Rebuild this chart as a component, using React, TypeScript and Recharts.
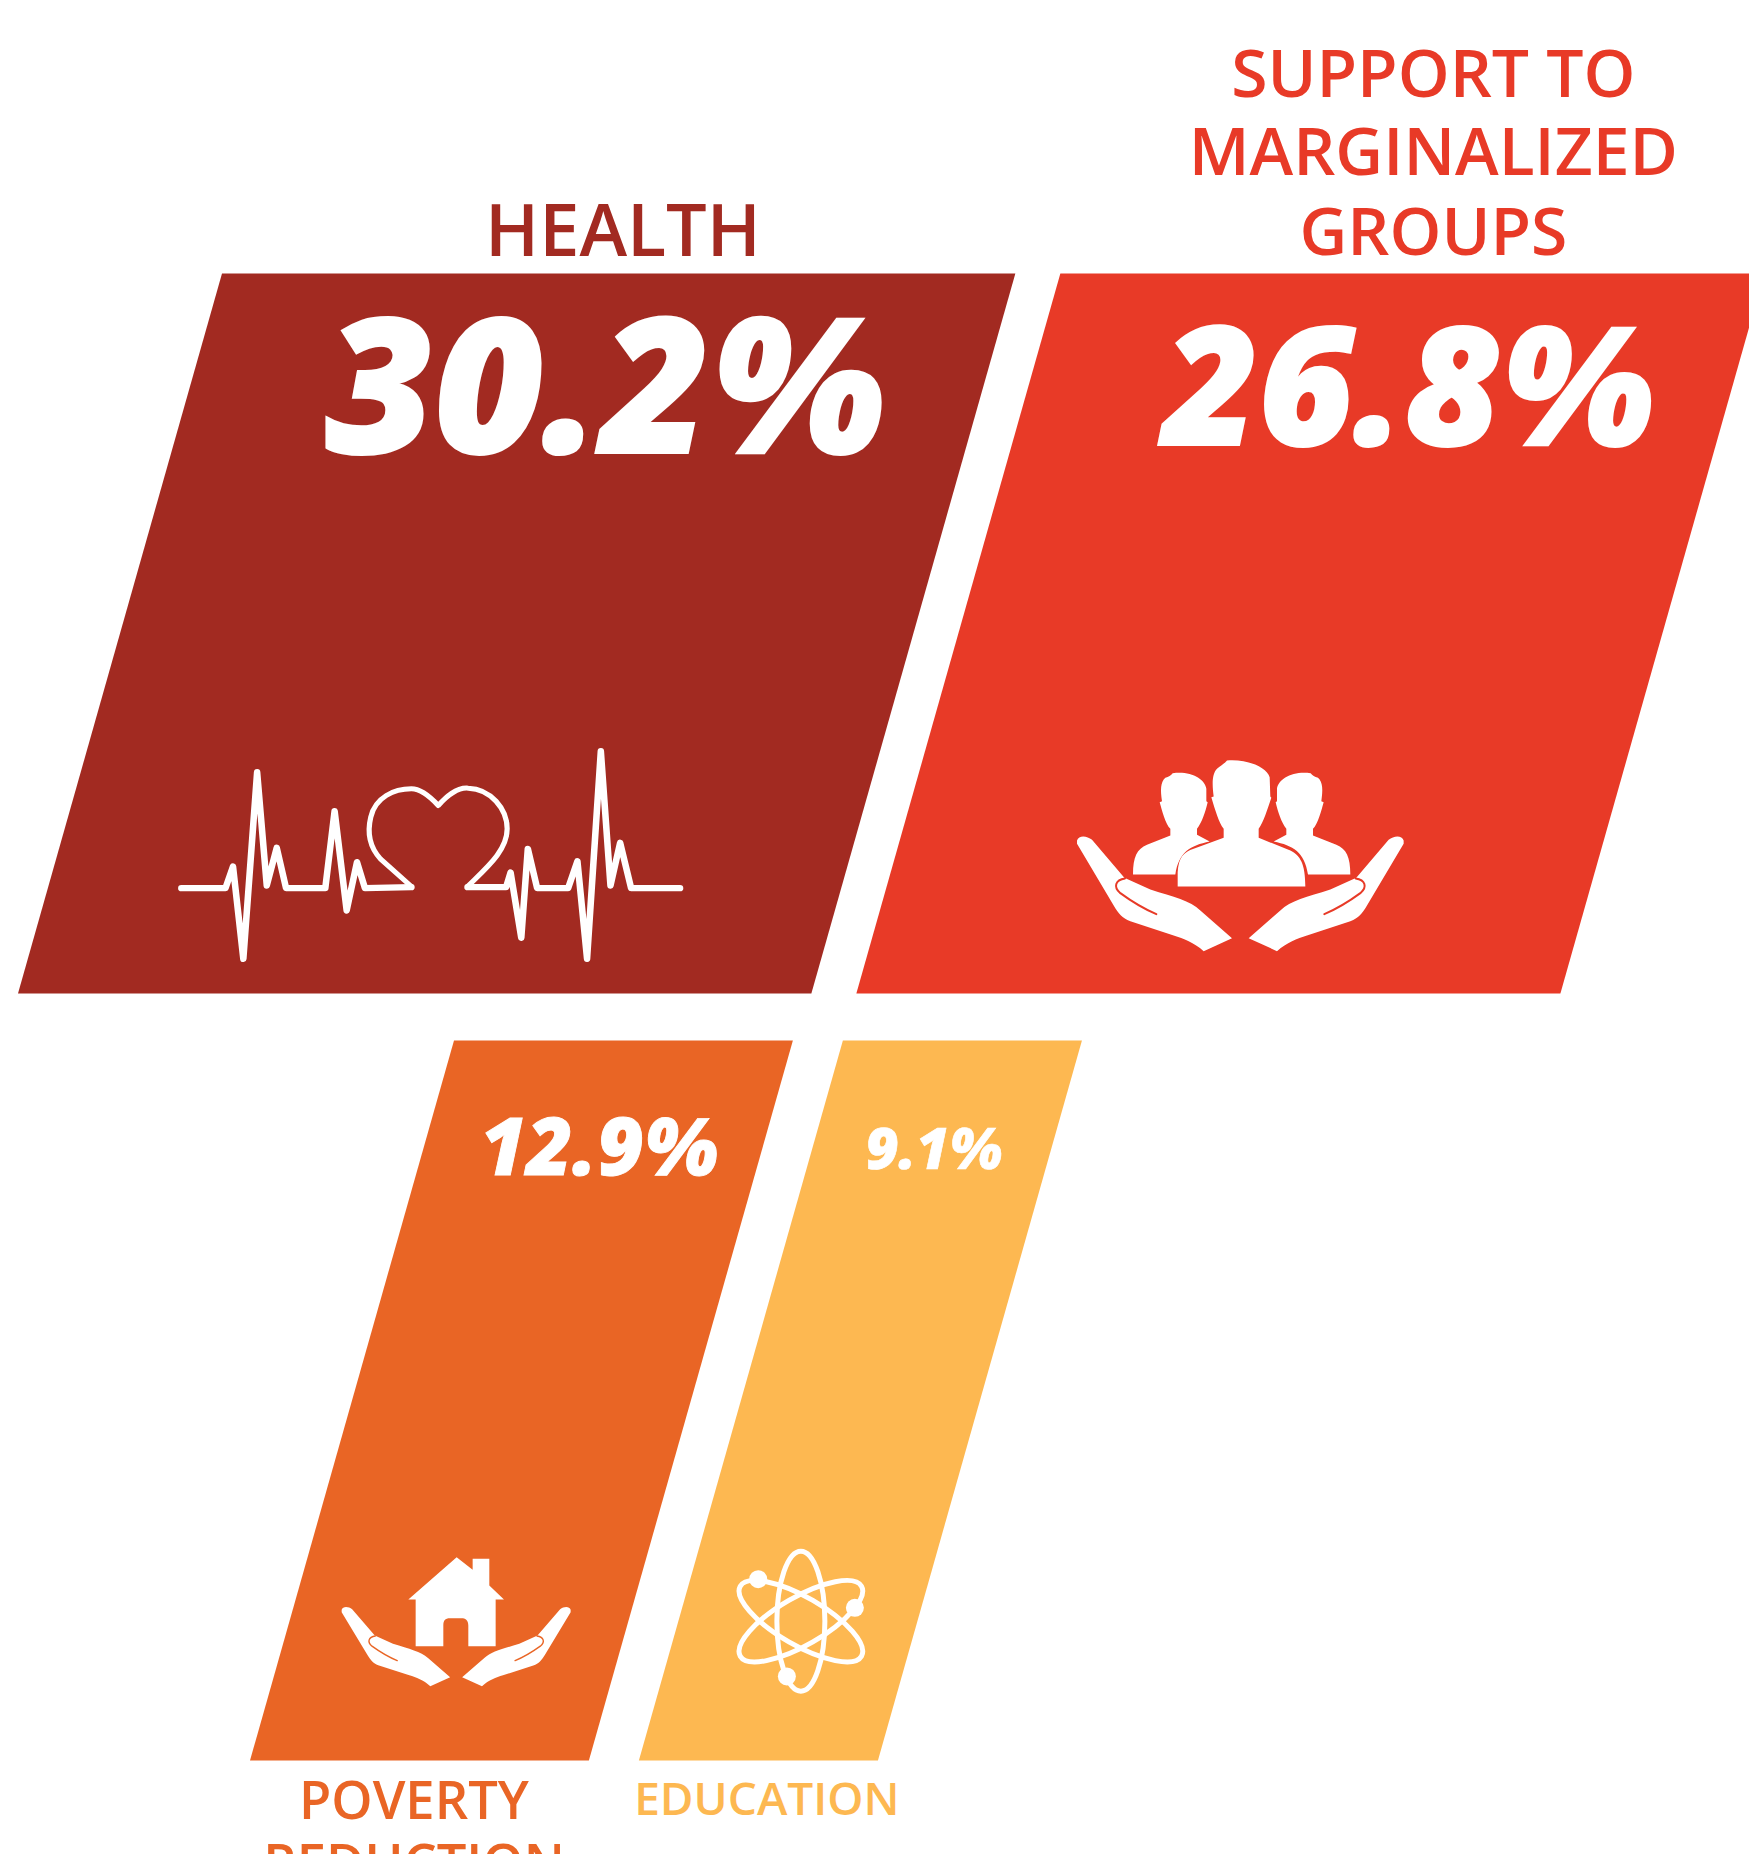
import React from "react";
import { Bar, BarChart, XAxis, YAxis } from "recharts";

const rowNames = ["upper", "lower"];
const firstNames = ["HEALTH", "POVERTY REDUCTION"];
const firstValues = [30.2, 12.9];
const secondNames = ["SUPPORT TO MARGINALIZED GROUPS", "EDUCATION"];
const secondValues = [26.8, 9.1];

const WIDTH = 1749;
const HEIGHT = 1854;
const PX_PER_PCT = 26.27;
const BAR_HEIGHT = 720;
const SKEW = 204;
// where each row starts and the white gap between its two blocks, in px
const ROW_START = [18, 250];
const ROW_GAP = [45, 50];

const rows = rowNames.map((row, i) => ({
  row,
  lead: ROW_START[i] / PX_PER_PCT,
  first: firstValues[i],
  gap: ROW_GAP[i] / PX_PER_PCT,
  second: secondValues[i],
}));

const FONT = "'Open Sans', sans-serif";

const hand =
  "M80 300C85 283 110 285 125 298L222 412L300 447C370 470 420 480 450 510L545 593L460 632C430 605 400 595 370 585L240 542C215 532 205 520 190 495L80 310Z";
const handGap = "M224 414C195 418 188 440 210 458C240 480 280 505 318 521";

function Hands({ fill, cx }: { fill: string; cx: number }) {
  const one = (
    <>
      <path d={hand} fill="#fff" />
      <path d={handGap} fill="none" stroke={fill} strokeWidth={6} strokeLinecap="round" />
    </>
  );
  return (
    <>
      {one}
      <g transform={`translate(${2 * cx} 0) scale(-1 1)`}>{one}</g>
    </>
  );
}

function HeartIcon() {
  const line = { fill: "none", stroke: "#fff", strokeLinecap: "round", strokeLinejoin: "round" } as const;
  return (
    <g transform="scale(0.3444 0.3333)">
      <path
        {...line}
        strokeWidth={19}
        d="M62 503L190 503L212 438L242 715L282 155L310 495L339 382L366 503L480 503L507 272L542 570L572 425L595 503L730 500"
      />
      <path
        {...line}
        strokeWidth={15}
        d="M730 498L640 415C600 370 605 320 612 290C625 230 680 205 730 205C760 205 790 235 808 255C830 230 860 200 895 203C960 205 1008 265 1008 325C1008 390 950 440 893 498"
      />
      <path
        {...line}
        strokeWidth={19}
        d="M893 500L1005 500L1018 456L1049 652L1068 385L1095 503L1185 503L1212 422L1240 715L1280 92L1308 495L1336 367L1368 503L1510 503"
      />
    </g>
  );
}

function PeopleIcon({ fill }: { fill: string }) {
  const side =
    "M248 402C248 350 260 325 290 313L360 285L360 265C345 250 335 210 328 185L335 182C330 150 330 125 345 112C355 108 362 105 367 98C420 90 465 115 468 145L468 182L472 185C465 215 455 245 440 265L440 283L478 303C420 315 385 335 375 402Z";
  return (
    <g transform="scale(0.3333)">
      <path d={side} fill="#fff" />
      <g transform="translate(1148 0) scale(-1 1)">
        <path d={side} fill="#fff" />
      </g>
      <path
        d="M382 438L382 395C385 350 400 335 430 325L520 292L520 265C505 245 495 210 483 170L490 168C485 130 485 100 500 85C510 75 520 72 530 60C590 55 650 80 658 110L660 168L663 172C650 210 640 245 625 265L625 292L720 330C750 345 765 370 765 438Z"
        fill="#fff"
      />
      <Hands fill={fill} cx={570} />
    </g>
  );
}

function HouseIcon({ fill }: { fill: string }) {
  return (
    <g transform="scale(0.3333)">
      <path
        d="M265 207L410 80L458 118L458 85L508 85L508 165L552 207L527 207L527 347L445 347L445 285C445 268 435 263 425 263L390 263C375 263 370 270 370 285L370 347L287 347L287 207Z"
        fill="#fff"
      />
      <g transform="translate(9 31) scale(0.7 0.69)">
        <Hands fill={fill} cx={570.7} />
      </g>
    </g>
  );
}

function AtomIcon() {
  const orbit = (angle: number) => (
    <ellipse
      key={angle}
      cx={273}
      cy={272}
      rx={72}
      ry={210}
      fill="none"
      stroke="#fff"
      strokeWidth={15}
      transform={`rotate(${angle} 273 272)`}
    />
  );
  return (
    <g transform="scale(0.3333)">
      {[0, 60, -60].map(orbit)}
      <circle cx={145} cy={146} r={27} fill="#fff" />
      <circle cx={435} cy={232} r={27} fill="#fff" />
      <circle cx={231} cy={438} r={27} fill="#fff" />
    </g>
  );
}

type BlockStyle = {
  fill: string;
  icon: React.ReactNode;
  iconAt: [number, number];
  valueAt: [number, number];
  valueSize: number;
  title: string[];
  titleX: number;
  titleY: number[];
  titleSize: number;
};

const firstStyles: BlockStyle[] = [
  {
    fill: "#A22A21",
    icon: <HeartIcon />,
    iconAt: [142, 447],
    valueAt: [587, 179],
    valueSize: 188,
    title: ["HEALTH"],
    titleX: 605,
    titleY: [-18],
    titleSize: 72,
  },
  {
    fill: "#E96525",
    icon: <HouseIcon fill="#E96525" />,
    iconAt: [70, 490],
    valueAt: [349, 134.5],
    valueSize: 80,
    title: ["POVERTY", "REDUCTION"],
    titleX: 164,
    titleY: [778, 841],
    titleSize: 52.5,
  },
];

const secondStyles: BlockStyle[] = [
  {
    fill: "#E83A27",
    icon: <PeopleIcon fill="#E83A27" />,
    iconAt: [194, 467],
    valueAt: [552, 171],
    valueSize: 165,
    title: ["SUPPORT TO", "MARGINALIZED", "GROUPS"],
    titleX: 577,
    titleY: [-177, -99, -19],
    titleSize: 66,
  },
  {
    fill: "#FDB851",
    icon: <AtomIcon />,
    iconAt: [71, 490],
    valueAt: [295, 128],
    valueSize: 57,
    title: ["EDUCATION"],
    titleX: 128,
    titleY: [774],
    titleSize: 46,
  },
];

function Block(props: any, styles: BlockStyle[], values: number[]) {
  const { x, y, width, height, index } = props;
  const s = styles[index];
  const points = [
    `${x},${y + height}`,
    `${x + width},${y + height}`,
    `${x + width + SKEW},${y}`,
    `${x + SKEW},${y}`,
  ].join(" ");
  return (
    <g>
      <polygon points={points} fill={s.fill} />
      <text
        x={x + s.valueAt[0]}
        y={y + s.valueAt[1]}
        textAnchor="middle"
        fontFamily={FONT}
        fontWeight={800}
        fontStyle="italic"
        fontSize={s.valueSize}
        fill="#fff"
        stroke="#fff"
        strokeWidth={s.valueSize / 90}
      >
        {values[index].toFixed(1)}%
      </text>
      <g transform={`translate(${x + s.iconAt[0]} ${y + s.iconAt[1]})`}>{s.icon}</g>
      {s.title.map((line, i) => (
        <text
          key={line}
          x={x + s.titleX}
          y={y + s.titleY[i]}
          textAnchor="middle"
          fontFamily={FONT}
          fontWeight={600}
          fontSize={s.titleSize}
          fill={s.fill}
        >
          {line}
        </text>
      ))}
    </g>
  );
}

export default function App() {
  return (
    <div style={{ position: "absolute", left: 0, top: 0, width: WIDTH, height: HEIGHT, overflow: "hidden", background: "#fff" }}>
      <BarChart
        width={WIDTH}
        height={HEIGHT}
        data={rows}
        layout="vertical"
        barSize={BAR_HEIGHT}
        margin={{ top: 249.5, right: 0, bottom: 70.5, left: 0 }}
      >
        <XAxis type="number" hide domain={[0, WIDTH / PX_PER_PCT]} />
        <YAxis type="category" dataKey="row" hide />
        <Bar dataKey="lead" stackId="row" fill="none" isAnimationActive={false} />
        <Bar
          dataKey="first"
          name={firstNames.join(", ")}
          stackId="row"
          isAnimationActive={false}
          shape={(p: any) => Block(p, firstStyles, firstValues)}
        />
        <Bar dataKey="gap" stackId="row" fill="none" isAnimationActive={false} />
        <Bar
          dataKey="second"
          name={secondNames.join(", ")}
          stackId="row"
          isAnimationActive={false}
          shape={(p: any) => Block(p, secondStyles, secondValues)}
        />
      </BarChart>
    </div>
  );
}
